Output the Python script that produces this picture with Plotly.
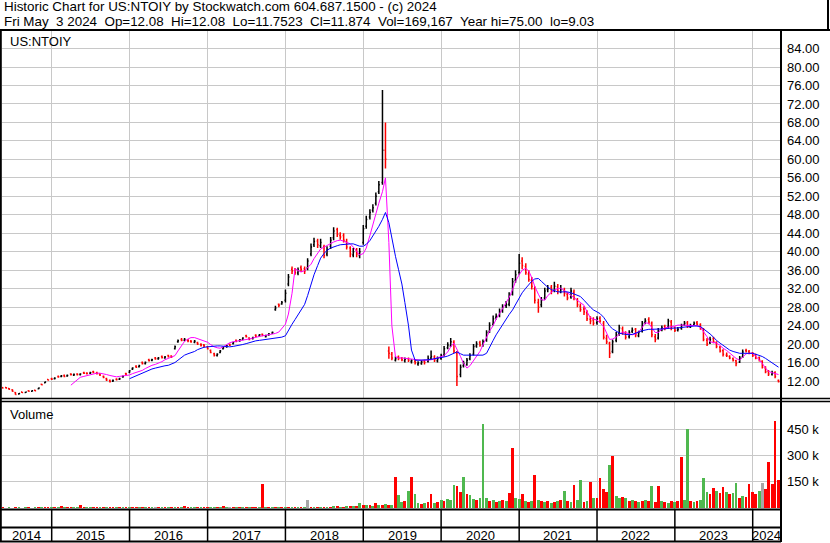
import plotly.graph_objects as go
import pandas as pd

W, H = 830, 543


def px(x):
    return x / W


def py(y):
    return 1 - y / H


# ---------------- data (semi-monthly periods, 2014-05-15 .. 2024-05-01) ----------------
dates = pd.date_range("2014-05-15", periods=240, freq="SMS")

open_ = [
    10.6, 10.6, 10.4, 10.1, 9.5, 9.2, 9.6, 9.5, 9.9, 9.8, 10.0, 10.3, 11.3, 11.6, 12.3,
    12.5, 12.5, 13.0, 13.0, 13.2, 13.1, 13.5, 13.3, 13.5, 13.4, 13.8, 13.7, 13.7, 14.0, 13.8, 13.5, 13.0, 12.5, 12.1, 12.0, 12.4, 12.4, 12.9, 13.6,
    13.9, 14.6, 15.2, 15.1, 16.0, 15.8, 16.6, 16.5, 17.0, 16.8, 17.3, 17.0, 17.5, 17.4, 19.0, 20.5, 21.0, 20.8, 20.9, 20.6, 20.4, 20.3, 19.9, 19.8,
    19.4, 18.6, 17.9, 17.5, 18.2, 19.0, 19.4, 19.9, 20.1, 20.8, 20.7, 21.0, 21.8, 21.3, 21.2, 21.9, 21.8, 22.1, 21.6, 22.0, 22.4, 27.5, 28.6, 28.7,
    29.5, 33.0, 36.2, 35.9, 35.4, 36.6, 36.3, 36.5, 39.5, 41.5, 42.3, 41.3, 41.0, 39.5, 41.2, 43.0, 44.8, 43.5, 43.5, 42.2, 40.8, 39.3, 40.3, 39.2,
    42.0, 45.5, 47.5, 49.0, 50.5, 53.0, 55.0, 62.0, 18.5, 17.8, 16.5, 17.2, 16.9, 16.4, 16.8, 16.2, 16.3, 15.7, 15.8, 16.3, 16.2, 17.0, 17.2, 16.4,
    16.9, 17.6, 19.2, 19.6, 20.4, 18.0, 13.4, 15.3, 15.6, 16.8, 17.8, 19.6, 20.3, 19.6, 20.8, 22.7, 24.3, 25.8, 26.2, 27.2, 28.3, 28.6, 30.8, 33.8,
    35.5, 38.0, 36.8, 35.2, 33.8, 32.0, 29.0, 28.5, 30.0, 31.8, 32.3, 31.6, 32.4, 31.4, 31.6, 30.8, 30.2, 31.2, 29.6, 28.2, 27.6, 26.8, 25.4, 25.2,
    24.6, 25.6, 24.5, 21.2, 20.2, 18.4, 20.8, 22.3, 23.3, 22.4, 21.6, 22.8, 23.2, 21.8, 22.8, 24.7, 25.3, 24.5, 21.6, 21.3, 23.2, 23.8, 23.7, 24.8,
    23.6, 23.0, 23.4, 24.2, 24.6, 23.7, 24.2, 24.6, 24.2, 23.3, 20.8, 20.3, 21.2, 20.3, 19.3, 18.6, 17.6, 17.3, 16.8, 16.4, 16.1, 17.2, 18.6, 18.4,
    18.1, 17.6, 17.1, 16.3, 14.8, 14.1, 13.4, 13.8, 12.1,
]

high = [
    10.7, 10.7, 10.5, 10.2, 9.6, 9.4, 9.7, 9.7, 10.0, 10.0, 10.1, 10.6, 11.4, 11.9, 12.4,
    12.7, 12.8, 13.2, 13.3, 13.4, 13.4, 13.7, 13.6, 13.7, 13.7, 14.0, 13.9, 14.0, 14.2, 14.0, 13.7, 13.2, 12.7, 12.3, 12.3, 12.6, 12.7, 13.2, 13.8,
    14.4, 15.0, 15.4, 15.5, 16.2, 16.2, 16.8, 16.8, 17.2, 17.2, 17.5, 17.4, 17.7, 17.6, 19.7, 21.0, 21.3, 21.3, 21.1, 20.9, 20.9, 20.5, 20.2, 20.0,
    19.6, 18.8, 18.1, 18.0, 18.7, 19.4, 19.8, 20.1, 20.5, 21.0, 21.1, 21.5, 22.0, 21.5, 21.6, 22.1, 22.2, 22.3, 22.0, 22.4, 22.7, 28.3, 28.8, 29.3,
    31.8, 35.2, 36.8, 36.5, 36.6, 37.0, 36.8, 38.6, 41.8, 43.0, 42.8, 42.8, 41.5, 41.2, 43.2, 45.3, 45.2, 44.2, 44.0, 42.8, 41.2, 40.8, 40.8, 40.8,
    45.8, 47.8, 49.2, 50.3, 52.8, 55.3, 75.0, 68.0, 19.5, 18.3, 17.3, 17.5, 17.2, 17.1, 17.1, 16.7, 16.6, 16.3, 16.5, 16.6, 17.5, 18.6, 17.6, 17.3,
    17.9, 19.6, 20.4, 21.3, 20.8, 18.5, 15.6, 16.4, 17.0, 18.0, 20.0, 20.6, 20.7, 21.0, 23.0, 24.7, 26.2, 26.6, 27.7, 28.6, 29.3, 31.2, 34.3, 36.0,
    39.5, 38.8, 37.5, 36.0, 34.5, 32.5, 29.8, 30.2, 32.2, 32.8, 32.8, 33.5, 33.0, 32.8, 32.2, 31.2, 32.2, 31.8, 30.0, 28.8, 28.2, 27.3, 26.0, 25.8,
    26.0, 26.0, 25.0, 22.0, 20.5, 21.0, 22.6, 24.2, 23.8, 22.8, 23.0, 23.6, 23.5, 22.9, 25.0, 25.6, 25.8, 24.9, 22.2, 23.5, 24.0, 24.2, 25.5, 25.2,
    23.8, 23.7, 24.4, 25.0, 25.0, 24.4, 24.9, 25.0, 24.5, 23.5, 21.3, 21.6, 21.6, 20.6, 19.6, 18.9, 18.2, 17.6, 17.1, 16.6, 17.4, 18.8, 19.0, 18.7,
    18.3, 17.9, 17.3, 16.5, 15.2, 14.4, 14.2, 14.1, 12.3,
]

low = [
    10.4, 10.4, 10.1, 9.7, 9.0, 9.1, 9.4, 9.4, 9.7, 9.7, 9.8, 10.2, 11.1, 11.5, 12.1,
    12.2, 12.3, 12.7, 12.8, 12.8, 12.9, 13.2, 13.1, 13.2, 13.2, 13.5, 13.4, 13.5, 13.7, 13.4, 13.1, 12.6, 12.0, 11.7, 11.8, 12.1, 12.2, 12.7, 13.3,
    13.7, 14.4, 14.8, 14.9, 15.6, 15.6, 16.2, 16.3, 16.6, 16.6, 16.9, 16.8, 17.1, 17.0, 18.8, 20.3, 20.6, 20.6, 20.4, 20.3, 20.2, 19.8, 19.5, 19.3,
    18.8, 18.0, 17.3, 17.3, 18.0, 18.8, 19.2, 19.6, 19.9, 20.4, 20.5, 20.8, 21.4, 20.8, 21.0, 21.5, 21.6, 21.7, 21.4, 21.8, 22.2, 27.2, 28.0, 28.5,
    29.0, 32.5, 35.2, 35.0, 34.9, 35.6, 35.2, 36.0, 39.0, 41.0, 40.8, 40.8, 38.6, 39.0, 40.6, 42.5, 43.2, 42.6, 42.0, 40.5, 38.8, 38.8, 38.8, 38.6,
    41.5, 45.0, 47.0, 48.5, 50.0, 52.5, 54.5, 58.0, 16.8, 16.5, 16.2, 16.5, 16.3, 16.0, 16.1, 15.8, 15.6, 15.3, 15.5, 15.6, 16.0, 16.6, 16.1, 16.0,
    16.6, 17.3, 18.9, 19.4, 18.0, 10.9, 12.8, 14.9, 15.3, 16.5, 17.5, 19.2, 19.4, 19.4, 20.5, 22.4, 24.0, 25.3, 25.8, 26.8, 27.8, 28.2, 30.5, 33.3,
    35.0, 36.2, 35.0, 33.5, 31.8, 28.8, 26.8, 28.0, 29.6, 31.2, 30.8, 31.2, 30.8, 31.0, 30.3, 29.5, 29.8, 29.5, 28.0, 27.0, 26.3, 25.0, 24.3, 24.0,
    24.2, 24.6, 21.0, 20.0, 17.0, 18.0, 20.4, 21.8, 22.0, 21.0, 21.2, 22.4, 21.5, 21.5, 22.5, 24.3, 24.3, 21.5, 20.4, 21.0, 22.8, 23.0, 23.3, 23.0,
    22.6, 22.7, 23.1, 23.9, 23.5, 23.5, 23.9, 24.0, 23.1, 20.6, 19.6, 20.0, 20.2, 19.1, 18.2, 17.3, 17.2, 16.7, 16.2, 15.2, 15.9, 17.0, 18.2, 17.8,
    17.2, 16.7, 16.2, 14.7, 13.7, 13.1, 13.2, 12.6, 11.7,
]

close = [
    10.5, 10.5, 10.2, 9.8, 9.1, 9.3, 9.5, 9.6, 9.8, 9.9, 9.9, 10.5, 11.2, 11.8, 12.2,
    12.4, 12.6, 12.9, 13.1, 13.0, 13.2, 13.4, 13.4, 13.4, 13.5, 13.7, 13.6, 13.8, 13.9, 13.6, 13.3, 12.8, 12.2, 11.9, 12.1, 12.3, 12.5, 13.0, 13.5,
    14.2, 14.8, 15.0, 15.3, 15.8, 16.0, 16.4, 16.6, 16.8, 17.0, 17.1, 17.2, 17.3, 17.2, 19.4, 20.7, 20.8, 21.0, 20.7, 20.5, 20.6, 20.0, 19.8, 19.6,
    19.0, 18.2, 17.6, 17.8, 18.5, 19.2, 19.6, 19.8, 20.3, 20.6, 20.9, 21.3, 21.6, 21.0, 21.4, 21.7, 22.0, 21.9, 21.8, 22.2, 22.5, 27.8, 28.4, 29.0,
    31.0, 34.5, 35.8, 35.5, 36.0, 36.2, 35.8, 38.0, 41.0, 42.2, 41.5, 42.0, 39.2, 40.5, 42.5, 44.5, 43.8, 43.2, 42.5, 41.0, 39.5, 40.0, 39.5, 40.0,
    45.0, 47.0, 48.5, 49.5, 52.0, 54.5, 62.0, 60.0, 18.0, 17.0, 16.8, 16.9, 16.6, 16.7, 16.5, 16.4, 16.0, 15.9, 16.1, 16.0, 16.8, 17.3, 16.6, 16.8,
    17.5, 19.0, 19.8, 20.5, 18.5, 13.0, 15.0, 15.8, 16.5, 17.5, 19.5, 20.0, 19.8, 20.5, 22.5, 24.0, 25.5, 26.0, 27.0, 28.0, 28.5, 30.5, 33.5, 35.0,
    37.5, 37.0, 35.5, 34.0, 32.5, 29.5, 28.0, 29.5, 31.5, 32.0, 31.5, 32.5, 31.5, 32.0, 31.0, 30.0, 31.5, 30.0, 28.5, 27.5, 27.0, 25.5, 25.0, 24.5,
    25.5, 25.0, 21.5, 20.5, 18.0, 20.5, 22.0, 23.5, 22.5, 21.5, 22.5, 23.0, 22.0, 22.5, 24.5, 25.0, 24.8, 22.0, 21.0, 23.0, 23.5, 23.5, 25.0, 23.5,
    23.0, 23.2, 24.0, 24.5, 23.8, 24.0, 24.5, 24.3, 23.5, 21.0, 20.0, 21.0, 20.5, 19.5, 18.5, 17.8, 17.5, 17.0, 16.5, 15.8, 17.0, 18.3, 18.5, 18.0,
    17.5, 17.0, 16.5, 15.0, 14.0, 13.5, 13.8, 13.0, 11.9,
]

# short moving average (magenta)
ma_fast = [None] * 21 + [
    11.1, 11.6, 12.3, 12.8, 13.0, 13.2, 13.4, 13.6, 13.7, 13.7, 13.6, 13.4, 13.2, 13.0, 12.9, 13.0, 13.1, 13.1,
    13.3, 13.6, 13.8, 14.0, 14.3, 14.7, 15.1, 15.4, 15.6, 15.8, 16.2, 16.6, 16.9, 17.1, 17.5, 18.5, 19.8, 20.6, 21.1, 21.4, 21.4, 21.2, 21.0, 20.8,
    20.4, 19.9, 19.4, 19.2, 19.1, 19.4, 19.9, 20.3, 20.5, 20.6, 20.7, 20.8, 20.9, 21.1, 21.3, 21.5, 21.6, 21.8, 21.9, 22.0, 22.1, 22.3, 22.6, 23.3,
    24.3, 26.5, 31.0, 36.3, 35.9, 35.6, 35.9, 36.5, 37.3, 38.5, 39.7, 40.6, 41.0, 41.4, 41.8, 42.1, 42.4, 42.5, 42.3, 42.0, 41.7, 41.0, 40.0, 39.3,
    39.6, 40.8, 43.5, 46.0, 48.0, 50.5, 53.0, 56.0, 42.0, 24.0, 17.2, 17.0, 17.0, 16.9, 16.8, 16.8, 16.7, 16.6, 16.5, 16.5, 16.5, 16.6, 16.8, 17.0,
    17.2, 17.5, 18.3, 19.4, 20.2, 19.0, 17.3, 15.8, 14.8, 15.3, 16.4, 17.3, 18.4, 19.8, 21.6, 22.8, 24.0, 25.4, 26.6, 27.6, 28.8, 30.1, 31.8, 33.6,
    35.0, 36.0, 36.4, 35.8, 34.4, 32.5, 30.8, 29.6, 29.5, 30.5, 31.2, 31.7, 32.0, 32.1, 31.6, 31.1, 30.4, 29.9, 29.5, 29.0, 28.4, 27.0, 25.7, 25.4,
    25.2, 24.6, 23.8, 22.4, 21.0, 21.1, 21.5, 22.1, 22.6, 22.5, 22.2, 22.0, 22.2, 22.6, 23.6, 24.6, 24.5, 23.5, 22.5, 22.5, 23.2, 23.5, 23.7, 23.8,
    23.9, 24.1, 24.1, 24.1, 24.1, 24.1, 24.1, 24.0, 23.6, 22.8, 21.6, 20.5, 20.3, 20.2, 19.7, 19.1, 18.6, 18.0, 17.4, 16.9, 16.5, 17.1, 17.9, 18.0,
    18.0, 17.4, 16.6, 15.8, 14.8, 14.1, 13.8, 13.6, 13.4,
]

# long moving average (blue)
ma_slow = [None] * 39 + [
    12.5, 12.8, 13.1, 13.4, 13.7, 14.0, 14.3, 14.6, 14.8, 15.0, 15.2, 15.3, 15.4, 15.7, 16.0, 16.5, 17.1, 17.6, 17.9, 18.1, 18.4, 18.8, 19.1, 19.3,
    19.4, 19.5, 19.5, 19.6, 19.6, 19.5, 19.4, 19.4, 19.5, 19.6, 19.7, 19.9, 20.1, 20.3, 20.5, 20.7, 20.8, 20.9, 21.0, 21.0, 21.1, 21.3, 21.4, 21.5,
    21.8, 23.0, 24.3, 25.3, 26.3, 27.3, 28.6, 30.5, 33.0, 35.0, 37.0, 38.6, 39.6, 40.3, 40.8, 41.1, 41.3, 41.5, 41.6, 41.7, 41.7, 41.7, 41.5, 41.2,
    41.2, 41.6, 42.4, 43.4, 44.5, 45.5, 47.0, 48.5, 46.3, 42.8, 39.0, 36.2, 33.0, 29.0, 24.0, 18.7, 16.5, 16.5, 16.5, 16.5, 16.6, 16.7, 16.8, 16.9,
    17.0, 17.2, 17.4, 17.7, 18.0, 18.3, 17.9, 17.6, 17.6, 17.6, 17.6, 17.6, 17.6, 17.6, 18.0, 19.4, 20.8, 22.0, 23.2, 24.3, 25.4, 26.4, 27.4, 28.6,
    30.0, 31.1, 32.1, 32.9, 33.6, 34.1, 34.2, 33.6, 32.8, 32.3, 31.8, 31.5, 31.3, 31.3, 31.3, 31.3, 31.1, 30.8, 30.6, 30.3, 29.5, 28.7, 28.0, 27.4,
    26.9, 26.6, 25.8, 24.8, 23.9, 23.3, 22.8, 22.4, 22.2, 22.1, 22.0, 22.1, 22.3, 22.6, 22.9, 23.1, 23.2, 23.2, 23.2, 23.2, 23.3, 23.3, 23.4, 23.4,
    23.5, 23.5, 23.6, 23.7, 23.8, 23.8, 23.9, 23.9, 23.8, 23.3, 22.8, 22.2, 21.5, 20.8, 20.2, 19.7, 19.2, 18.7, 18.4, 18.2, 18.0, 18.0, 18.0, 18.0,
    18.0, 17.8, 17.6, 17.3, 16.9, 16.5, 16.0, 15.5, 15.0,
]

# volume, thousands of shares
volume_k = [
    3, 2, 4, 2, 5, 3, 2, 4, 3, 2, 5, 3, 4, 6, 3,
    5, 4, 8, 10, 6, 4, 5, 3, 5, 15, 6, 4, 5, 3, 4, 6, 3, 5, 4, 3, 5, 4, 3, 6,
    6, 5, 8, 4, 6, 5, 7, 4, 5, 6, 4, 5, 6, 8, 5, 4, 6, 10, 5, 4, 6, 5, 4, 3,
    5, 4, 6, 8, 5, 10, 6, 4, 5, 7, 4, 3, 5, 4, 6, 5, 4, 137, 5, 3, 4, 6, 5, 4,
    4, 6, 5, 8, 5, 6, 4, 46, 6, 5, 4, 6, 5, 8, 6, 10, 12, 8, 6, 10, 12, 10, 14, 30,
    15, 18, 20, 12, 30, 20, 15, 25, 20, 20, 175, 75, 35, 40, 100, 175, 80, 30, 25, 30, 35, 80, 30, 35,
    45, 40, 50, 45, 131, 125, 90, 178, 80, 75, 50, 45, 60, 479, 60, 40, 45, 35, 40, 45, 40, 87, 342, 60,
    50, 80, 40, 35, 40, 190, 45, 40, 35, 40, 30, 35, 40, 45, 100, 40, 35, 133, 45, 160, 35, 40, 150, 60,
    60, 170, 110, 90, 248, 300, 70, 60, 65, 55, 40, 45, 40, 35, 40, 45, 40, 124, 35, 127, 40, 35, 30, 40,
    35, 40, 290, 45, 454, 40, 35, 40, 45, 172, 90, 80, 113, 100, 85, 120, 90, 80, 85, 145, 60, 70, 65, 137,
    90, 80, 95, 145, 110, 265, 137, 496, 160,
]

# volume bar direction per period: g = up, r = down, x = unchanged
vol_dir = [
    "rggrrgrgrrgrgrr",
    "grgrgrrggrrggrrgrgrrgrgr",
    "grrgrgrgxrgrgrgrgrrggrgr",
    "rggrgrgxrgrgrgrrgrgrgrgr",
    "grgrgrgxrgrgrgrgrgrgrgrg",
    "rgrgrgrgrgrggrgrggrgrrgr",
    "grgggrrgrggrgggrgrgrgrrg",
    "grgrgrgrgrgrgrgrgrggrgrg",
    "rrrrgrggrgrgrgrgrgrrgrgr",
    "grrggrgrgggrrgrrgrggrgrr",
    "rrgxrrrrr",
]

year_labels = ["2014", "2015", "2016", "2017", "2018", "2019", "2020", "2021", "2022", "2023", "2024"]
price_ticks = [12, 16, 20, 24, 28, 32, 36, 40, 44, 48, 52, 56, 60, 64, 68, 72, 76, 80, 84]
volume_ticks = [150000, 300000, 450000]
volume_tick_text = ["150 k", "300 k", "450 k"]

header_1 = "Historic Chart for US:NTOIY by Stockwatch.com 604.687.1500 - (c) 2024"
header_2 = ("Fri May\u00a0 3 2024\u00a0 Op=12.08\u00a0 Hi=12.08\u00a0 Lo=11.7523\u00a0 Cl=11.874"
            "\u00a0 Vol=169,167\u00a0 Year hi=75.00\u00a0 lo=9.03")

# ---------------- figure ----------------
FONT = "Liberation Sans, Arial, sans-serif"
GRID = "#c8c8c8"
x_range = ["2014-05-13", "2024-05-08"]

color_map = {"g": "#4fb84f", "r": "#ff0000", "x": "#a8a8a8"}
vol_colors = [color_map[c] for c in "".join(vol_dir)]

fig = go.Figure()

fig.add_trace(go.Ohlc(
    x=dates, open=open_, high=high, low=low, close=close,
    increasing=dict(line=dict(color="#000000", width=1.5)),
    decreasing=dict(line=dict(color="#ff0000", width=1.5)),
    tickwidth=0.35, xaxis="x", yaxis="y", hoverinfo="skip", showlegend=False,
))
fig.add_trace(go.Scatter(
    x=dates, y=ma_fast, mode="lines", line=dict(color="#ff00ff", width=1),
    xaxis="x", yaxis="y", hoverinfo="skip", showlegend=False,
))
fig.add_trace(go.Scatter(
    x=dates, y=ma_slow, mode="lines", line=dict(color="#0000ff", width=1),
    xaxis="x", yaxis="y", hoverinfo="skip", showlegend=False,
))
fig.add_trace(go.Bar(
    x=dates, y=[v * 1000 for v in volume_k],
    marker=dict(color=vol_colors, line=dict(width=0)),
    width=13 * 86400000, xaxis="x2", yaxis="y2", hoverinfo="skip", showlegend=False,
))

xcommon = dict(
    type="date", range=x_range, showgrid=True, gridcolor=GRID, gridwidth=1,
    dtick="M12", tick0="2015-01-01", showticklabels=False, ticks="",
    zeroline=False, showline=False,
)

fig.update_layout(
    width=W, height=H,
    margin=dict(l=0, r=0, t=0, b=0, pad=0),
    paper_bgcolor="white", plot_bgcolor="white",
    showlegend=False, hovermode=False,
    font=dict(family=FONT, size=13, color="black"),
    xaxis=dict(domain=[px(2), px(780)], anchor="y", rangeslider=dict(visible=False), **xcommon),
    yaxis=dict(
        domain=[py(398), py(31)], anchor="x", range=[8.32, 87.8], side="right",
        tickvals=price_ticks, tickformat=".2f", showgrid=True, gridcolor=GRID, gridwidth=1,
        ticks="", ticklabelstandoff=6, zeroline=False, showline=False,
        tickfont=dict(family=FONT, size=13, color="black"),
    ),
    xaxis2=dict(domain=[px(2), px(780)], anchor="y2", matches="x", **xcommon),
    yaxis2=dict(
        domain=[py(509), py(401)], anchor="x2", range=[-5700, 612600], side="right",
        tickvals=volume_ticks, ticktext=volume_tick_text, showgrid=True, gridcolor=GRID,
        gridwidth=1, ticks="", ticklabelstandoff=6, zeroline=False, showline=False,
        tickfont=dict(family=FONT, size=13, color="black"),
    ),
    bargap=0,
)

# frame lines (pixel positions converted to paper coordinates)
shapes = []


def hline(y, x0, x1, w=2):
    shapes.append(dict(type="line", xref="paper", yref="paper", x0=px(x0), x1=px(x1),
                       y0=py(y), y1=py(y), line=dict(color="black", width=w)))


def vline(x, y0, y1, w=2):
    shapes.append(dict(type="line", xref="paper", yref="paper", x0=px(x), x1=px(x),
                       y0=py(y0), y1=py(y1), line=dict(color="black", width=w)))


hline(30, 0, 830)
vline(828, 0, 31)
vline(0.8, 31, 542)
vline(781, 31, 542)
hline(398.5, 0, 830, 1.5)
hline(401.5, 0, 830, 1.5)
hline(509.5, 0, 781)
hline(527.5, 0, 781)
hline(541.5, 0, 781)

for yl in year_labels[1:]:
    shapes.append(dict(type="line", xref="x", yref="paper", x0=f"{yl}-01-01", x1=f"{yl}-01-01",
                       y0=py(509), y1=py(541), line=dict(color="black", width=1.5)))

fig.update_layout(shapes=shapes)

HF = 13.4
annotations = [
    dict(text=header_1, x=px(2), y=py(7), xref="paper", yref="paper",
         xanchor="left", yanchor="middle", showarrow=False, font=dict(size=HF)),
    dict(text=header_2, x=px(2), y=py(21), xref="paper", yref="paper",
         xanchor="left", yanchor="middle", showarrow=False, font=dict(size=HF)),
    dict(text="US:NTOIY", x=px(8), y=py(41), xref="paper", yref="paper",
         xanchor="left", yanchor="middle", showarrow=False, font=dict(size=13)),
    dict(text="Volume", x=px(8), y=py(414), xref="paper", yref="paper",
         xanchor="left", yanchor="middle", showarrow=False, font=dict(size=13)),
]

# year labels centred in the visible part of each year
start = pd.Timestamp(x_range[0])
end = pd.Timestamp(x_range[1])
for yl in year_labels:
    a = max(pd.Timestamp(f"{yl}-01-01"), start)
    b = min(pd.Timestamp(f"{int(yl) + 1}-01-01"), end)
    mid = a + (b - a) / 2
    annotations.append(dict(text=yl, x=mid.strftime("%Y-%m-%d"), y=py(535), xref="x", yref="paper",
                            xanchor="center", yanchor="middle", showarrow=False, font=dict(size=13)))

fig.update_layout(annotations=annotations)

fig.write_html(
    "out.html",
    config={"displayModeBar": False, "staticPlot": True},
    post_script="document.body.style.margin='0px';document.body.style.padding='0px';",
)
